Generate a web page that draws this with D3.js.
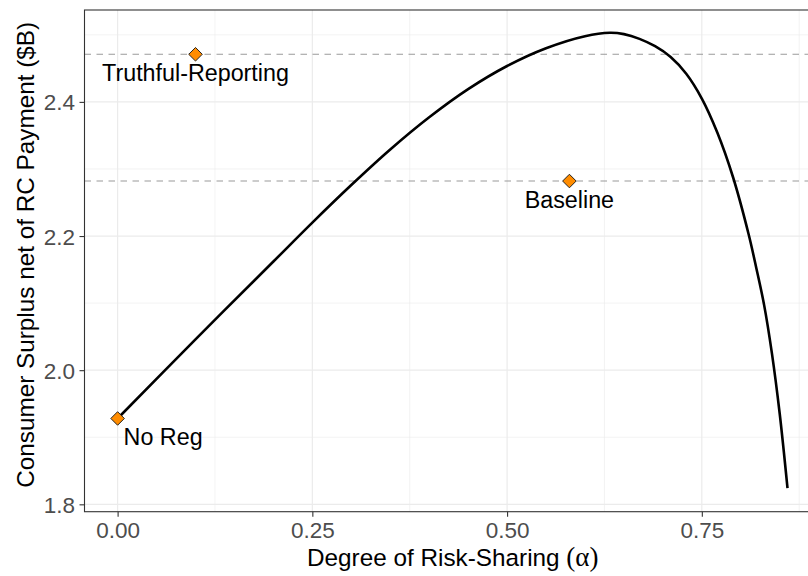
<!DOCTYPE html>
<html>
<head>
<meta charset="utf-8">
<script src="https://cdn.jsdelivr.net/npm/d3@7"></script>
<style>
  html, body { margin: 0; padding: 0; background: #ffffff; }
  svg { display: block; }
</style>
</head>
<body>
<svg id="chart" width="808" height="576"></svg>
<script>
// ---- data ----
const curveAlpha = [0, 0.10, 0.20, 0.25, 0.30, 0.35, 0.40, 0.45, 0.50, 0.55, 0.60, 0.632, 0.65, 0.67, 0.69, 0.71, 0.73, 0.75, 0.77, 0.79, 0.81, 0.82, 0.83, 0.84, 0.85, 0.86];
const curveSurplus = [1.928, 2.046, 2.162, 2.220, 2.276, 2.329, 2.377, 2.419, 2.4535, 2.480, 2.498, 2.503, 2.501, 2.494, 2.483, 2.467, 2.442, 2.405, 2.354, 2.288, 2.203, 2.152, 2.097, 2.025, 1.935, 1.824];

const pointNames = ["Truthful-Reporting", "Baseline", "No Reg"];
const pointAlpha = [0.10, 0.58, 0.00];
const pointSurplus = [2.471, 2.282, 1.928];

const hlineValues = [2.471, 2.282];

const xTicks = [0, 0.25, 0.50, 0.75];
const xTickLabels = ["0.00", "0.25", "0.50", "0.75"];
const xMinor = [0.125, 0.375, 0.625, 0.875];
const yTicks = [1.8, 2.0, 2.2, 2.4];
const yTickLabels = ["1.8", "2.0", "2.2", "2.4"];
const yMinor = [1.9, 2.1, 2.3, 2.5];

const xTitle = "Degree of Risk-Sharing ";
const xTitleMath = "(\u03B1)";
const yTitle = "Consumer Surplus net of RC Payment ($B)";

// ---- layout ----
const panel = { left: 84.5, right: 821, top: 10, bottom: 511.7 };
const font = "'Liberation Sans', Arial, Helvetica, sans-serif";

const x = d3.scaleLinear().domain([-0.0425, 0.903]).range([panel.left, panel.right]);
const y = d3.scaleLinear().domain([1.789, 2.537]).range([panel.bottom, panel.top]);

const svg = d3.select("#chart");

svg.append("defs").append("clipPath").attr("id", "clip")
  .append("rect")
  .attr("x", panel.left).attr("y", panel.top)
  .attr("width", panel.right - panel.left).attr("height", panel.bottom - panel.top);

svg.append("rect").attr("x", panel.left).attr("y", panel.top)
  .attr("width", panel.right - panel.left).attr("height", panel.bottom - panel.top)
  .attr("fill", "#ffffff");

const grid = svg.append("g").attr("clip-path", "url(#clip)");
grid.selectAll(".xminor").data(xMinor).join("line")
  .attr("x1", d => x(d)).attr("x2", d => x(d))
  .attr("y1", panel.top).attr("y2", panel.bottom)
  .attr("stroke", "#ebebeb").attr("stroke-width", 0.6);
grid.selectAll(".yminor").data(yMinor).join("line")
  .attr("y1", d => y(d)).attr("y2", d => y(d))
  .attr("x1", panel.left).attr("x2", panel.right)
  .attr("stroke", "#ebebeb").attr("stroke-width", 0.6);
grid.selectAll(".xmajor").data(xTicks).join("line")
  .attr("x1", d => x(d)).attr("x2", d => x(d))
  .attr("y1", panel.top).attr("y2", panel.bottom)
  .attr("stroke", "#ebebeb").attr("stroke-width", 1.2);
grid.selectAll(".ymajor").data(yTicks).join("line")
  .attr("y1", d => y(d)).attr("y2", d => y(d))
  .attr("x1", panel.left).attr("x2", panel.right)
  .attr("stroke", "#ebebeb").attr("stroke-width", 1.2);

const plot = svg.append("g").attr("clip-path", "url(#clip)");

plot.selectAll(".hline").data(hlineValues).join("line")
  .attr("x1", panel.left).attr("x2", panel.right)
  .attr("y1", d => y(d)).attr("y2", d => y(d))
  .attr("stroke", "#9a9a9a").attr("stroke-width", 1.1)
  .attr("stroke-dasharray", "6.5,5.5");

const curveData = curveAlpha.map((a, i) => [a, curveSurplus[i]]);
plot.append("path")
  .datum(curveData)
  .attr("fill", "none")
  .attr("stroke", "#000000")
  .attr("stroke-width", 2.6)
  .attr("stroke-linejoin", "round")
  .attr("d", d3.line().x(d => x(d[0])).y(d => y(d[1])).curve(d3.curveCatmullRom.alpha(0.5)));

const pts = pointNames.map((n, i) => ({ name: n, a: pointAlpha[i], s: pointSurplus[i] }));
const sq = d3.symbol().type(d3.symbolSquare).size(92);
plot.selectAll(".pt").data(pts).join("path")
  .attr("d", sq)
  .attr("transform", d => `translate(${x(d.a)},${y(d.s)}) rotate(45)`)
  .attr("fill", "#FF8C00")
  .attr("stroke", "#1a1a1a")
  .attr("stroke-width", 0.9);

const labelOffset = { "Truthful-Reporting": [0, 27, "middle"], "Baseline": [0, 27, "middle"], "No Reg": [6, 27, "start"] };
svg.selectAll(".lbl").data(pts).join("text")
  .attr("x", d => x(d.a) + labelOffset[d.name][0])
  .attr("y", d => y(d.s) + labelOffset[d.name][1])
  .attr("text-anchor", d => labelOffset[d.name][2])
  .attr("font-family", font)
  .attr("font-size", 23.3)
  .attr("fill", "#000000")
  .text(d => d.name);

svg.append("rect").attr("x", panel.left).attr("y", panel.top)
  .attr("width", panel.right - panel.left).attr("height", panel.bottom - panel.top)
  .attr("fill", "none").attr("stroke", "#333333").attr("stroke-width", 1.1);

const xAxis = d3.axisBottom(x).tickValues(xTicks)
  .tickFormat((d, i) => xTickLabels[i]).tickSize(5).tickPadding(5);
const gx = svg.append("g").attr("transform", `translate(0,${panel.bottom})`).call(xAxis);
gx.select(".domain").remove();
gx.selectAll(".tick line").attr("stroke", "#333333").attr("stroke-width", 1.1);
gx.selectAll(".tick text").attr("font-family", font).attr("font-size", 22.5)
  .attr("fill", "#4d4d4d").attr("dy", "0.71em");

const yAxis = d3.axisLeft(y).tickValues(yTicks)
  .tickFormat((d, i) => yTickLabels[i]).tickSize(5).tickPadding(4.5);
const gy = svg.append("g").attr("transform", `translate(${panel.left},0)`).call(yAxis);
gy.select(".domain").remove();
gy.selectAll(".tick line").attr("stroke", "#333333").attr("stroke-width", 1.1);
gy.selectAll(".tick text").attr("font-family", font).attr("font-size", 22.5)
  .attr("fill", "#4d4d4d").attr("dy", "0.36em");

const xt = svg.append("text")
  .attr("x", (panel.left + panel.right) / 2)
  .attr("y", 566)
  .attr("text-anchor", "middle")
  .attr("font-family", font)
  .attr("font-size", 24.3)
  .attr("fill", "#000000");
xt.append("tspan").text(xTitle);
xt.append("tspan").attr("font-family", "'Liberation Serif', 'DejaVu Serif', serif")
  .attr("font-size", 27).text(xTitleMath);

svg.append("text")
  .attr("transform", `translate(34,${(panel.top + panel.bottom) / 2 - 6}) rotate(-90)`)
  .attr("text-anchor", "middle")
  .attr("font-family", font)
  .attr("font-size", 24.3)
  .attr("fill", "#000000")
  .text(yTitle);
</script>
</body>
</html>
